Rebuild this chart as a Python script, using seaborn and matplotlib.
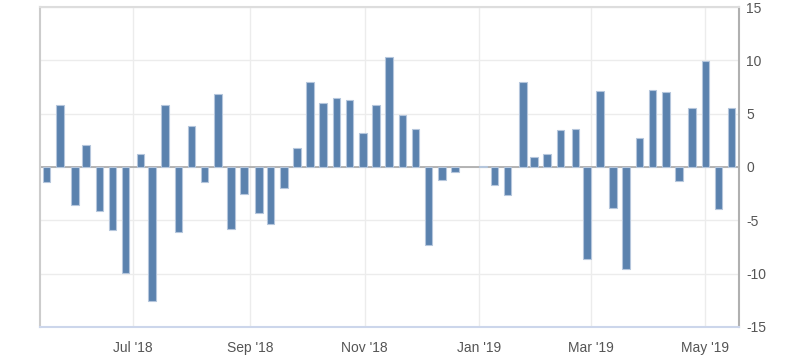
import numpy as np
import pandas as pd
import matplotlib
matplotlib.use("Agg")
import matplotlib.pyplot as plt
import matplotlib.dates as mdates
import seaborn as sns

# weekly release dates and change values
dates = ["2018-05-16", "2018-05-23", "2018-05-31", "2018-06-06", "2018-06-13",
         "2018-06-20", "2018-06-27", "2018-07-05", "2018-07-11", "2018-07-18",
         "2018-07-25", "2018-08-01", "2018-08-08", "2018-08-15", "2018-08-22",
         "2018-08-29", "2018-09-06", "2018-09-12", "2018-09-19", "2018-09-26",
         "2018-10-03", "2018-10-10", "2018-10-17", "2018-10-24", "2018-10-31",
         "2018-11-07", "2018-11-14", "2018-11-21", "2018-11-28", "2018-12-05",
         "2018-12-12", "2018-12-19", "2019-01-03", "2019-01-09", "2019-01-16",
         "2019-01-24", "2019-01-30", "2019-02-06", "2019-02-13", "2019-02-21",
         "2019-02-27", "2019-03-06", "2019-03-13", "2019-03-20", "2019-03-27",
         "2019-04-03", "2019-04-10", "2019-04-17", "2019-04-24", "2019-05-01",
         "2019-05-08", "2019-05-15"]
values = [-1.4, 5.8, -3.6, 2.1, -4.1, -5.9, -9.9, 1.2, -12.6, 5.8,
          -6.1, 3.8, -1.4, 6.8, -5.8, -2.5, -4.3, -5.3, -2.0, 1.8,
          8.0, 6.0, 6.5, 6.3, 3.2, 5.8, 10.3, 4.9, 3.6, -7.3,
          -1.2, -0.5, 0.1, -1.7, -2.6, 8.0, 0.9, 1.2, 3.5, 3.6,
          -8.6, 7.1, -3.8, -9.6, 2.7, 7.2, 7.0, -1.3, 5.5, 9.9,
          -3.9, 5.5]
y_ticks = [-15, -10, -5, 0, 5, 10, 15]

df = pd.DataFrame({"date": pd.to_datetime(dates), "value": values})
df["x"] = mdates.date2num(df["date"])

sns.set_style("white")
plt.rcParams["font.family"] = ["Liberation Sans", "DejaVu Sans"]
plt.rcParams["axes.unicode_minus"] = False

fig = plt.figure(figsize=(8, 3.63), dpi=100)
ax = fig.add_axes([0.05, 0.0992, 0.874, 0.8815])

sns.barplot(data=df, x="x", y="value", native_scale=True, orient="x",
            color="#5b82ae", saturation=1, width=0.67, errorbar=None,
            edgecolor="#b5c6dc", linewidth=0.8, ax=ax, zorder=3)

ax.set_ylim(-15, 15)
ax.set_yticks(y_ticks)
ax.set_xlim(mdates.date2num(pd.Timestamp("2018-05-12 12:00")),
            mdates.date2num(pd.Timestamp("2019-05-19")))
ax.xaxis.set_major_locator(mdates.MonthLocator(bymonth=[1, 3, 5, 7, 9, 11]))
ax.xaxis.set_major_formatter(mdates.DateFormatter("%b '%y"))

ax.yaxis.tick_right()
ax.grid(True, color="#ececec", linewidth=1, zorder=0)
ax.axhline(0, color="#a8a8a8", linewidth=1.2, zorder=2)
ax.tick_params(axis="both", length=0, labelsize=10, colors="#555555")
ax.tick_params(axis="y", pad=5)
ax.tick_params(axis="x", pad=10)
ax.set_xlabel("")
ax.set_ylabel("")

for side, col in [("left", "#cccccc"), ("right", "#b0b0b0"),
                  ("top", "#dddddd"), ("bottom", "#ccd6eb")]:
    ax.spines[side].set_visible(True)
    ax.spines[side].set_color(col)
    ax.spines[side].set_linewidth(1.5)

fig.savefig("out.png", dpi=100)
